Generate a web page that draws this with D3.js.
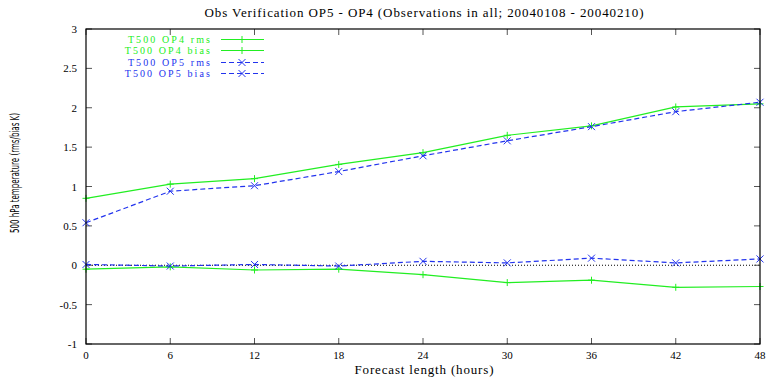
<!DOCTYPE html>
<html>
<head>
<meta charset="utf-8">
<script src="https://cdn.jsdelivr.net/npm/d3@7"></script>
<style>
  body { margin: 0; background: white; }
  svg { display: block; }
  text { font-family: "Liberation Serif", serif; }
</style>
</head>
<body>
<div id="graphContainer"></div>
<script>
const hours = [0, 6, 12, 18, 24, 30, 36, 42, 48];
const op4Rms = [0.85, 1.03, 1.10, 1.28, 1.43, 1.65, 1.77, 2.01, 2.05];
const op4Bias = [-0.05, -0.02, -0.06, -0.05, -0.12, -0.22, -0.19, -0.28, -0.27];
const op5Rms = [0.54, 0.94, 1.01, 1.19, 1.39, 1.58, 1.76, 1.95, 2.07];
const op5Bias = [0.01, -0.01, 0.01, -0.01, 0.05, 0.03, 0.09, 0.03, 0.08];
const yTicks = [-1, -0.5, 0, 0.5, 1, 1.5, 2, 2.5, 3];
const seriesNames = ["T500 OP4 rms", "T500 OP4 bias", "T500 OP5 rms", "T500 OP5 bias"];

const series = [
  { name: seriesNames[0], values: op4Rms, color: "#22ee22", dash: null, mark: "plus" },
  { name: seriesNames[1], values: op4Bias, color: "#22ee22", dash: null, mark: "plus" },
  { name: seriesNames[2], values: op5Rms, color: "#2233ee", dash: "5,3", mark: "cross" },
  { name: seriesNames[3], values: op5Bias, color: "#2233ee", dash: "5,3", mark: "cross" }
];

const W = 766, H = 378;
const margin = { top: 29, right: 6, bottom: 34, left: 86 };
const width = W - margin.left - margin.right;
const height = H - margin.top - margin.bottom;

const svg = d3.select("#graphContainer").append("svg")
  .attr("width", W).attr("height", H);
const g = svg.append("g")
  .attr("transform", "translate(" + margin.left + "," + margin.top + ")");

const x = d3.scaleLinear().domain([0, 48]).range([0, width]);
const y = d3.scaleLinear().domain([-1, 3]).range([height, 0]);

// zero line
g.append("line")
  .attr("x1", 0).attr("x2", width)
  .attr("y1", y(0)).attr("y2", y(0))
  .attr("stroke", "#000").attr("stroke-width", 1)
  .attr("stroke-dasharray", "1,2");

// inward ticks on all four sides (gnuplot style)
const tk = 6;
g.selectAll("xt").data(hours).enter().append("path")
  .attr("d", d => "M" + x(d) + "," + height + "v" + (-tk) + "M" + x(d) + ",0v" + tk)
  .attr("stroke", "#555").attr("stroke-width", 1);
g.selectAll("yt").data(yTicks).enter().append("path")
  .attr("d", d => "M0," + y(d) + "h" + tk + "M" + width + "," + y(d) + "h" + (-tk))
  .attr("stroke", "#555").attr("stroke-width", 1);

// tick labels
g.selectAll("xl").data(hours).enter().append("text")
  .attr("x", d => x(d)).attr("y", height + 15)
  .attr("text-anchor", "middle")
  .style("font-size", "11px")
  .text(d => d);
g.selectAll("yl").data(yTicks).enter().append("text")
  .attr("x", -9).attr("y", d => y(d) + 4)
  .attr("text-anchor", "end")
  .style("font-size", "11px")
  .text(d => d);

// lines + points
const line = d3.line()
  .x((d, i) => x(hours[i]))
  .y(d => y(d));

function marker(sel, type, color) {
  const s = 3.5;
  sel.attr("d", type === "plus"
      ? "M" + (-s) + ",0h" + (2 * s) + "M0," + (-s) + "v" + (2 * s)
      : "M" + (-s) + "," + (-s) + "l" + (2 * s) + "," + (2 * s) + "M" + (-s) + "," + s + "l" + (2 * s) + "," + (-2 * s))
    .attr("stroke", color).attr("stroke-width", 1).attr("fill", "none");
}

series.forEach(s => {
  g.append("path")
    .attr("d", line(s.values))
    .attr("fill", "none")
    .attr("stroke", s.color)
    .attr("stroke-width", 1.2)
    .attr("stroke-dasharray", s.dash);
  g.selectAll(null).data(s.values).enter().append("path")
    .attr("transform", (d, i) => "translate(" + x(hours[i]) + "," + y(d) + ")")
    .call(marker, s.mark, s.color);
});

// frame
g.append("rect")
  .attr("width", width).attr("height", height)
  .attr("fill", "none").attr("stroke", "#000").attr("stroke-width", 1.2);

// legend
const leg = svg.append("g");
series.forEach((s, i) => {
  const ly = Math.round(38.5 + i * 11.5) + 0.5;
  leg.append("text")
    .attr("x", 212).attr("y", ly + 3.5)
    .attr("text-anchor", "end")
    .attr("fill", s.color)
    .style("font-size", "10px")
    .style("letter-spacing", "2.1px")
    .text(s.name);
  leg.append("line")
    .attr("x1", 221).attr("x2", 264).attr("y1", ly).attr("y2", ly)
    .attr("stroke", s.color).attr("stroke-width", 1.2)
    .attr("stroke-dasharray", s.dash);
  leg.append("path")
    .attr("transform", "translate(242," + ly + ")")
    .call(marker, s.mark, s.color);
});

// titles
svg.append("text")
  .attr("x", 424).attr("y", 17)
  .attr("text-anchor", "middle")
  .style("font-size", "13px")
  .attr("textLength", 439)
  .text("Obs Verification OP5 - OP4 (Observations in all; 20040108 - 20040210)");
svg.append("text")
  .attr("x", 424).attr("y", 374)
  .attr("text-anchor", "middle")
  .style("font-size", "13px")
  .attr("textLength", 139)
  .text("Forecast length (hours)");
svg.append("text")
  .attr("transform", "translate(19,173) rotate(-90)")
  .attr("text-anchor", "middle")
  .style("font-family", "'DejaVu Sans Condensed', 'DejaVu Sans', sans-serif")
  .style("font-size", "12.5px")
  .attr("textLength", 120)
  .attr("lengthAdjust", "spacingAndGlyphs")
  .text("500 hPa temperature (rms/bias K)");
</script>
</body>
</html>
